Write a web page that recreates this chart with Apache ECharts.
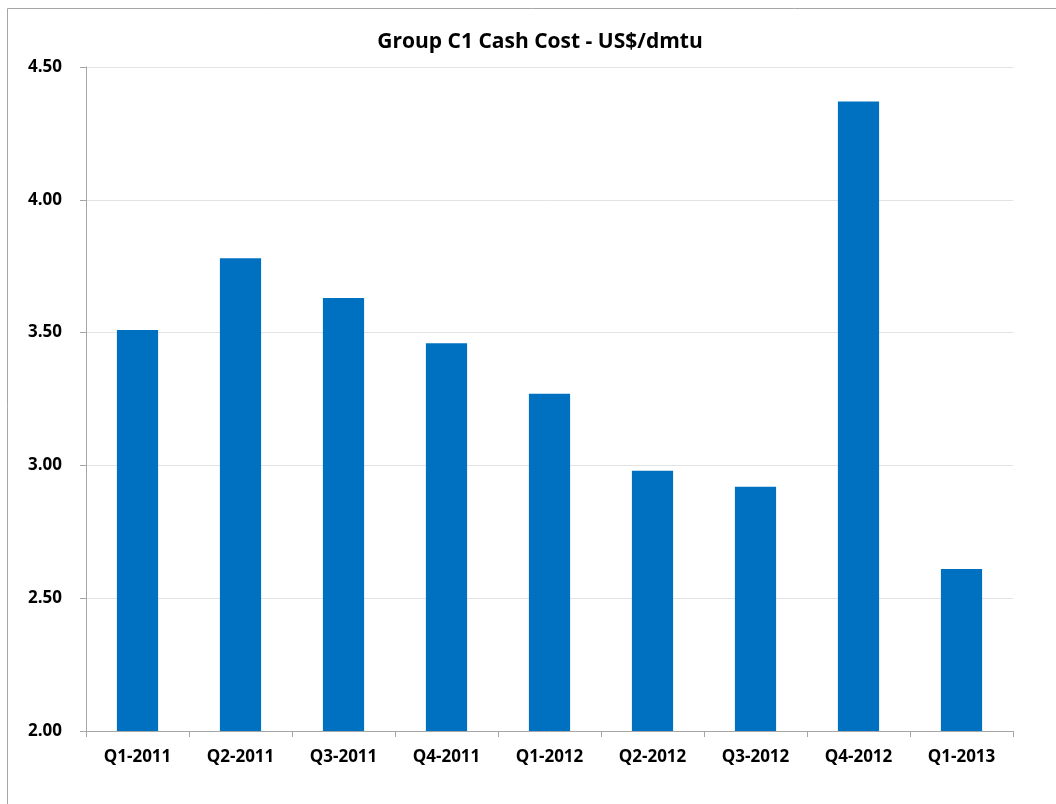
<!DOCTYPE html>
<html>
<head>
<meta charset="utf-8">
<script src="https://cdn.jsdelivr.net/npm/echarts@6/dist/echarts.min.js"></script>
<style>
  html, body { margin: 0; padding: 0; background: #fff; }
  #chart { width: 1056px; height: 804px; }
</style>
</head>
<body>
<div id="chart"></div>
<script>
var quarters = ['Q1-2011', 'Q2-2011', 'Q3-2011', 'Q4-2011', 'Q1-2012', 'Q2-2012', 'Q3-2012', 'Q4-2012', 'Q1-2013'];
var cashCost = [3.51, 3.78, 3.63, 3.46, 3.27, 2.98, 2.92, 4.37, 2.61];

var myChart = echarts.init(document.getElementById('chart'));
var labelFont = '"Open Sans", "DejaVu Sans", sans-serif';

var option = {
    animation: false,
    graphic: [{
        type: 'rect',
        shape: { x: 7.5, y: 8.5, width: 1200, height: 900 },
        style: { fill: 'none', stroke: '#a6a6a6', lineWidth: 1 },
        silent: true
    }],
    title: {
        text: 'Group C1 Cash Cost - US$/dmtu',
        left: 535,
        top: 27,
        textAlign: 'center',
        textStyle: { fontFamily: labelFont, fontSize: 21, fontWeight: 'bold', color: '#000' }
    },
    grid: { left: 86, right: 43, top: 67, bottom: 73 },
    xAxis: {
        type: 'category',
        data: quarters,
        axisLine: { lineStyle: { color: '#a6a6a6', width: 1 } },
        axisTick: { show: true, length: 6, interval: 0, lineStyle: { color: '#a6a6a6' } },
        axisLabel: { margin: 18, fontFamily: labelFont, fontSize: 17, fontWeight: 'bold', color: '#000', interval: 0 }
    },
    yAxis: {
        type: 'value',
        min: 2,
        max: 4.5,
        interval: 0.5,
        axisLine: { show: true, lineStyle: { color: '#a6a6a6', width: 1 } },
        axisTick: { show: true, length: 6, lineStyle: { color: '#a6a6a6' } },
        axisLabel: {
            margin: 24,
            fontFamily: labelFont, fontSize: 17, fontWeight: 'bold', color: '#000',
            formatter: function (v) { return v.toFixed(2); }
        },
        splitLine: { lineStyle: { color: '#e3e3e3', width: 1 } }
    },
    series: [{
        type: 'bar',
        data: cashCost,
        barWidth: '40%',
        itemStyle: { color: '#0070c0' }
    }]
};
myChart.setOption(option);
</script>
</body>
</html>
